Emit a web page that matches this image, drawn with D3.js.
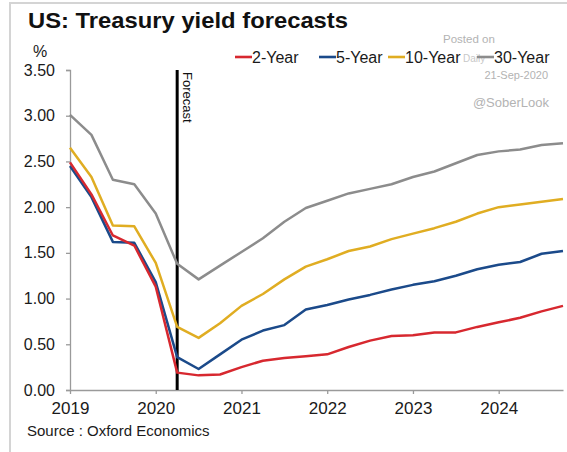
<!DOCTYPE html>
<html>
<head>
<meta charset="utf-8">
<script src="https://cdn.jsdelivr.net/npm/d3@7"></script>
<style>
  body { margin: 0; background: #fff; }
  text { font-family: "Liberation Sans", Arial, sans-serif; }
</style>
</head>
<body>
<div id="chart"></div>
<script>
(function() {

    var width = 567,
    height = 452;

    // quarters, 2019Q1 .. 2024Q4 as decimal years
    var quarters = d3.range(24).map(function(i){ return 2019 + i * 0.25 })

    var seriesNames = ["2-Year", "5-Year", "10-Year", "30-Year"]
    var seriesColors = ["#d7282f", "#1b4a8a", "#e0ad22", "#8c8c8c"]

    var twoYear = [2.49, 2.14, 1.69, 1.58, 1.13, 0.19,
        0.16, 0.17, 0.25, 0.32, 0.35, 0.37, 0.39, 0.47, 0.54, 0.59,
        0.60, 0.63, 0.63, 0.69, 0.74, 0.79, 0.86, 0.92]
    var fiveYear = [2.45, 2.11, 1.62, 1.61, 1.18, 0.36,
        0.23, 0.39, 0.55, 0.65, 0.71, 0.88, 0.93, 0.99, 1.04, 1.10,
        1.15, 1.19, 1.25, 1.32, 1.37, 1.40, 1.49, 1.52]
    var tenYear = [2.65, 2.33, 1.80, 1.79, 1.39, 0.69,
        0.57, 0.73, 0.92, 1.05, 1.21, 1.35, 1.43, 1.52, 1.57, 1.65,
        1.71, 1.77, 1.84, 1.93, 2.00, 2.03, 2.06, 2.09]
    var thirtyYear = [3.01, 2.79, 2.30, 2.25, 1.93, 1.38,
        1.21, 1.36, 1.51, 1.66, 1.84, 1.99, 2.07, 2.15, 2.20, 2.25,
        2.33, 2.39, 2.48, 2.57, 2.61, 2.63, 2.68, 2.70]

    var yTicks = [0, 0.5, 1, 1.5, 2, 2.5, 3, 3.5]
    var xTicks = [2019, 2020, 2021, 2022, 2023, 2024]
    var forecastStart = 2020.25

    var svg = d3.select("#chart")
    .append("svg")
    .attr("height", height)
    .attr("width", width)

    // frame (top and left edge only, picture is cropped)
    svg.append("path")
    .attr("d", "M10,452V3H567")
    .attr("fill", "none")
    .attr("stroke", "#d4d4d4")
    .attr("stroke-width", 2)

    svg.append("text")
    .attr("x", 28)
    .attr("y", 28)
    .attr("textLength", 320)
    .attr("lengthAdjust", "spacingAndGlyphs")
    .style("font-size", "22px")
    .style("font-weight", "bold")
    .attr("fill", "#111")
    .text("US: Treasury yield forecasts")

    var x = d3.scaleLinear().domain([2019, 2024.75]).range([70, 563])
    var y = d3.scaleLinear().domain([0, 3.5]).range([390, 70])

    // y axis
    var yAxis = svg.append("g")
    .attr("transform", "translate(70,0)")
    .call(d3.axisLeft(y).tickValues(yTicks).tickFormat(d3.format(".2f")).tickSize(4).tickPadding(11))
    yAxis.selectAll("path, line").attr("stroke", "#9a9a9a").attr("stroke-width", 1.3)
    yAxis.selectAll("text").style("font-size", "16px").attr("fill", "#1a1a1a")

    // x axis
    var xAxis = svg.append("g")
    .attr("transform", "translate(0,390)")
    .call(d3.axisBottom(x).tickValues(xTicks).tickFormat(d3.format("d")).tickSizeInner(4).tickSizeOuter(0).tickPadding(8))
    xAxis.selectAll("path, line").attr("stroke", "#9a9a9a").attr("stroke-width", 1.3)
    xAxis.selectAll("text").style("font-size", "17px").attr("fill", "#1a1a1a")

    svg.append("text")
    .attr("x", 40)
    .attr("y", 57)
    .attr("text-anchor", "middle")
    .style("font-size", "16px")
    .attr("fill", "#1a1a1a")
    .text("%")

    // forecast marker
    svg.append("line")
    .attr("x1", x(forecastStart))
    .attr("x2", x(forecastStart))
    .attr("y1", y(3.5))
    .attr("y2", y(0))
    .attr("stroke", "#000")
    .attr("stroke-width", 3)

    svg.append("text")
    .attr("transform", "translate(" + (x(forecastStart) + 6) + "," + (y(3.5) + 2) + ") rotate(90)")
    .style("font-size", "13px")
    .attr("fill", "#111")
    .text("Forecast")

    var allSeries = [twoYear, fiveYear, tenYear, thirtyYear]

    var line = d3.line()
    .x(function(d, i){ return x(quarters[i]) })
    .y(function(d){ return y(d) })

    // draw 30y first so the short rates sit on top
    svg.selectAll(".series")
    .data(allSeries.slice().reverse())
    .enter().append("path")
    .attr("class", "series")
    .attr("d", line)
    .attr("fill", "none")
    .attr("stroke", function(d, i){ return seriesColors[3 - i] })
    .attr("stroke-width", 2.5)
    .attr("stroke-linejoin", "round")

    // watermark bits
    var wm = "#b3b3b3"
    svg.append("text").attr("x", 443).attr("y", 43).style("font-size", "11.5px").attr("fill", wm).text("Posted on")
    svg.append("text").attr("x", 463).attr("y", 62).style("font-size", "10px").attr("fill", "#c8c8c8").text("Daily")
    svg.append("text").attr("x", 548).attr("y", 79).attr("text-anchor", "end").style("font-size", "11px").attr("fill", wm).text("21-Sep-2020")
    svg.append("text").attr("x", 549).attr("y", 107).attr("text-anchor", "end").style("font-size", "13px").attr("fill", wm).text("@SoberLook")

    // legend
    var legendX = [235, 319, 388, 477]
    var legend = svg.selectAll(".legend")
    .data(seriesNames)
    .enter().append("g")
    .attr("class", "legend")
    .attr("transform", function(d, i){ return "translate(" + legendX[i] + ",57)" })

    legend.append("line")
    .attr("x1", 0).attr("x2", 17)
    .attr("y1", 0).attr("y2", 0)
    .attr("stroke", function(d, i){ return seriesColors[i] })
    .attr("stroke-width", 2.6)

    legend.append("text")
    .attr("x", 17)
    .attr("y", 6)
    .style("font-size", "16px")
    .attr("fill", "#1a1a1a")
    .text(function(d){ return d })

    svg.append("text")
    .attr("x", 27)
    .attr("y", 436)
    .style("font-size", "15px")
    .attr("fill", "#1a1a1a")
    .text("Source : Oxford Economics")

})();
</script>
</body>
</html>
